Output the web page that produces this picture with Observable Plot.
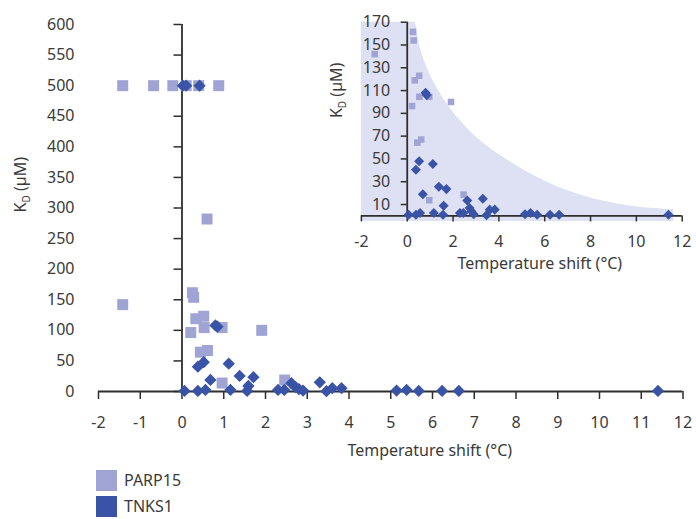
<!DOCTYPE html>
<html>
<head>
<meta charset="utf-8">
<script src="https://cdn.jsdelivr.net/npm/d3@7"></script>
<script src="https://cdn.jsdelivr.net/npm/@observablehq/plot@0.6"></script>
<style>
  html, body { margin: 0; padding: 0; background: #fff; }
  #wrap { position: relative; width: 696px; height: 519px; overflow: hidden; font-family: "Noto Sans", sans-serif; color: #3a3a3a; }
  #main { position: absolute; left: 0; top: 0; }
  #inset { position: absolute; left: 300px; top: 0; }
  #legend { position: absolute; left: 96px; top: 470px; font-size: 16px; }
  .item { display: flex; align-items: center; height: 21px; margin-bottom: 5px; }
  .sw { width: 21px; height: 21px; margin-right: 7px; flex: none; }
  .lbl { line-height: 15px; height: 15px; display: block; }
</style>
</head>
<body>
<div id="wrap">
  <div id="main"></div>
  <div id="inset"></div>
  <div id="legend"></div>
</div>
<script>
// ---- data ----
const seriesNames = ["PARP15", "TNKS1"];
const seriesColors = ["#a0a4d4", "#3954a6"];

const parpX = [-1.42, 0.25, 0.28, 0.33, 0.52, 0.53, 0.96, 0.21, 1.91, 0.44, 0.61, 0.96, 2.46, 0.6, -1.42, -0.68, -0.22, 0.1, 0.4, 0.88];
const parpY = [142, 161.5, 154, 119, 123, 104.5, 104.5, 96.4, 100, 64.3, 67, 13.8, 18.7, 282, 500, 500, 500, 500, 500, 500];

const tnksX = [0.02, 0.1, 0.42, 0.8, 0.85, 0.38, 0.52, 1.12, 0.68, 1.38, 1.71, 1.59, 1.56, 0.06, 0.38, 0.56, 1.16, 2.3, 2.45, 2.62, 2.72, 2.8, 2.9, 3.3, 3.46, 3.6, 3.82, 5.14, 5.38, 5.67, 6.23, 6.63, 11.4];
const tnksY = [500, 500, 500, 108, 106, 40.5, 48, 45.5, 19, 25.5, 23.5, 9, 1, 1, 1, 2.5, 2.5, 2.5, 2.5, 13.5, 7, 4, 1.5, 15, 0.5, 5.5, 5.5, 1.5, 2.5, 1, 1, 1, 1];

// inset shaded envelope
const shadeX = [-2, 0.32, 0.58, 0.87, 1.31, 1.89, 2.62, 3.34, 4.07, 5.52, 6.98, 8.43, 9.89, 11.63];
const shadeTop = [170, 170, 147, 130, 112, 94, 77, 63.5, 53, 35.5, 22.3, 13.5, 8.2, 5.3];
const shadeBase = -5;

// ticks
const mainXTicks = d3.range(-2, 13, 1);
const mainYTicks = d3.range(0, 601, 50);
const insetXTicks = d3.range(-2, 13, 2);
const insetYTicks = d3.range(10, 171, 20);

const xTitle = "Temperature shift (°C)";
const yTitle = "KD (µM)";

// ---- tables ----
const parp = parpX.map((x, i) => ({x, y: parpY[i]}));
const tnks = tnksX.map((x, i) => ({x, y: tnksY[i]}));
const shade = shadeX.map((x, i) => ({x, y: shadeTop[i]}));

const ink = "#2e2e2e";
const textColor = "#3a3a3a";
const fontFamily = "Noto Sans, sans-serif";

function fixSubscript(svg) {
  d3.select(svg).selectAll("text").each(function() {
    if (this.textContent === yTitle) {
      const t = d3.select(this);
      t.text(null);
      t.append("tspan").text("K");
      t.append("tspan").attr("font-size", "10px").attr("dy", "4").text("D");
      t.append("tspan").attr("dy", "-4").text(" (µM)");
    }
  });
}

// ---- main chart ----
const main = Plot.plot({
  width: 696,
  height: 465,
  marginLeft: 98,
  marginRight: 13.5,
  marginTop: 24,
  marginBottom: 74,
  style: {fontFamily, fontSize: "16px", color: textColor, background: "transparent"},
  x: {domain: [-2, 12]},
  y: {domain: [0, 600]},
  marks: [
    Plot.ruleX([0], {stroke: ink, strokeWidth: 1.8}),
    Plot.ruleY([0], {stroke: ink, strokeWidth: 1.8}),
    Plot.axisX({ticks: mainXTicks, tickSize: 8, tickPadding: 17, tickFormat: d => String(d), label: null, stroke: ink, strokeWidth: 1.5, fill: textColor}),
    Plot.axisY({ticks: mainYTicks, tickSize: 0, tickPadding: 24, tickFormat: d => String(d), label: null, fill: textColor}),
    Plot.axisY({x: 0, ticks: mainYTicks, tickSize: 8, fill: "none", label: null, stroke: ink, strokeWidth: 1.5}),
    Plot.text([xTitle], {frameAnchor: "bottom", dx: 39, dy: 64, fill: textColor, fontSize: 16}),
    Plot.text([yTitle], {frameAnchor: "left", rotate: -90, dx: -78, dy: 4.5, fill: textColor, fontSize: 16}),
    Plot.dot(parp, {x: "x", y: "y", symbol: "square", r: 6.2, fill: seriesColors[0], stroke: "none"}),
    Plot.dot(tnks, {x: "x", y: "y", symbol: "square", rotate: 45, r: 4.9, fill: seriesColors[1], stroke: "none"})
  ]
});
fixSubscript(main);
document.getElementById("main").append(main);

// ---- inset ----
const inset = Plot.plot({
  width: 396,
  height: 290,
  marginLeft: 60.9,
  marginRight: 14.3,
  marginTop: 21.7,
  marginBottom: 74.6,
  style: {fontFamily, fontSize: "16px", color: textColor, background: "transparent"},
  x: {domain: [-2, 12]},
  y: {domain: [0, 170]},
  marks: [
    Plot.areaY(shade, {x: "x", y1: shadeBase, y2: "y", curve: "monotone-x", fill: "#dee1f3"}),
    Plot.ruleX([0], {stroke: ink, strokeWidth: 1.8}),
    Plot.ruleY([0], {stroke: ink, strokeWidth: 1.8}),
    Plot.axisX({ticks: insetXTicks, tickSize: 6, tickPadding: 14, tickFormat: d => String(d), label: null, stroke: ink, strokeWidth: 1.5, fill: textColor}),
    Plot.axisY({x: 0, ticks: insetYTicks, tickSize: 6, tickPadding: 11, tickFormat: d => String(d), label: null, stroke: ink, strokeWidth: 1.5, fill: textColor}),
    Plot.text([xTitle], {frameAnchor: "bottom", dx: 18, dy: 53, fill: textColor, fontSize: 16}),
    Plot.text([yTitle], {frameAnchor: "left", rotate: -90, dx: -25, dy: -1, fill: textColor, fontSize: 16}),
    Plot.dot(parp.filter(d => d.y <= 170), {x: "x", y: "y", symbol: "square", r: 3.7, fill: seriesColors[0], stroke: "none"}),
    Plot.dot(tnks.filter(d => d.y <= 170), {x: "x", y: "y", symbol: "square", rotate: 45, r: 4, fill: seriesColors[1], stroke: "none"})
  ]
});
fixSubscript(inset);
document.getElementById("inset").append(inset);

// ---- legend ----
const legend = d3.select("#legend");
seriesNames.forEach((name, i) => {
  const row = legend.append("div").attr("class", "item");
  row.append("div").attr("class", "sw").style("background", seriesColors[i]);
  row.append("span").attr("class", "lbl").text(name);
});
</script>
</body>
</html>
